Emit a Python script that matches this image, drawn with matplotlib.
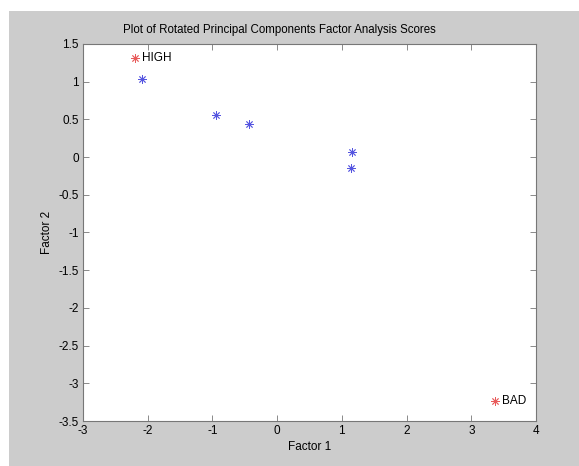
import matplotlib
matplotlib.use("Agg")
import matplotlib.pyplot as plt
from matplotlib.patches import Rectangle

# factor scores
f1_normal = [-2.09, -0.94, -0.44, 1.16, 1.14]
f2_normal = [1.036, 0.554, 0.439, 0.064, -0.149]
f1_flag = [-2.20, 3.36]
f2_flag = [1.31, -3.23]
flag_names = ["HIGH", "BAD"]

x_ticks = [-3, -2, -1, 0, 1, 2, 3, 4]
y_ticks = [-3.5, -3, -2.5, -2, -1.5, -1, -0.5, 0, 0.5, 1, 1.5]

plt.rcParams['font.family'] = ['Liberation Sans', 'DejaVu Sans']

W, H = 579, 466
fig = plt.figure(figsize=(W / 100, H / 100), dpi=100)
fig.patch.set_facecolor('white')
# gray MATLAB figure area (white strip on top and left)
fig.add_artist(Rectangle((9 / W, 0), 1 - 9 / W, 1 - 11 / H,
                         transform=fig.transFigure, facecolor='#cccccc',
                         edgecolor='none', zorder=0))

ax = fig.add_axes([83 / W, 1 - 421 / H, (536 - 83) / W, (421 - 44) / H])
ax.set_facecolor('white')

star = (8, 2, 0)
ax.plot(f1_normal, f2_normal, linestyle='none', marker=star, markersize=6,
        markeredgewidth=0.6, color='#5555e0')
ax.plot(f1_flag, f2_flag, linestyle='none', marker=star, markersize=6,
        markeredgewidth=0.6, color='#e85a5a')
for x, y, name in zip(f1_flag, f2_flag, flag_names):
    ax.text(x + 0.11, y, name, fontsize=8.5, va='center', ha='left')

ax.set_xlim(-3, 4)
ax.set_ylim(-3.5, 1.5)
ax.set_xticks(x_ticks)
ax.set_yticks(y_ticks)
ax.set_xticklabels([f"{t:g}" for t in x_ticks])
ax.set_yticklabels([f"{t:g}" for t in y_ticks])
ax.tick_params(direction='in', length=4, width=0.6, colors='#777777',
               labelcolor='black', labelsize=8.5, top=True, right=True, pad=3)
for s in ax.spines.values():
    s.set_color('#777777')
    s.set_linewidth(0.8)

ax.set_xlabel('Factor 1', fontsize=8.5, labelpad=3)
ax.set_ylabel('Factor 2', fontsize=8.5, labelpad=4)
fig.text(279 / W, 1 - 30 / H,
         'Plot of Rotated Principal Components Factor Analysis Scores',
         fontsize=8.3, ha='center', va='center')

fig.savefig('out.png', dpi=100)
